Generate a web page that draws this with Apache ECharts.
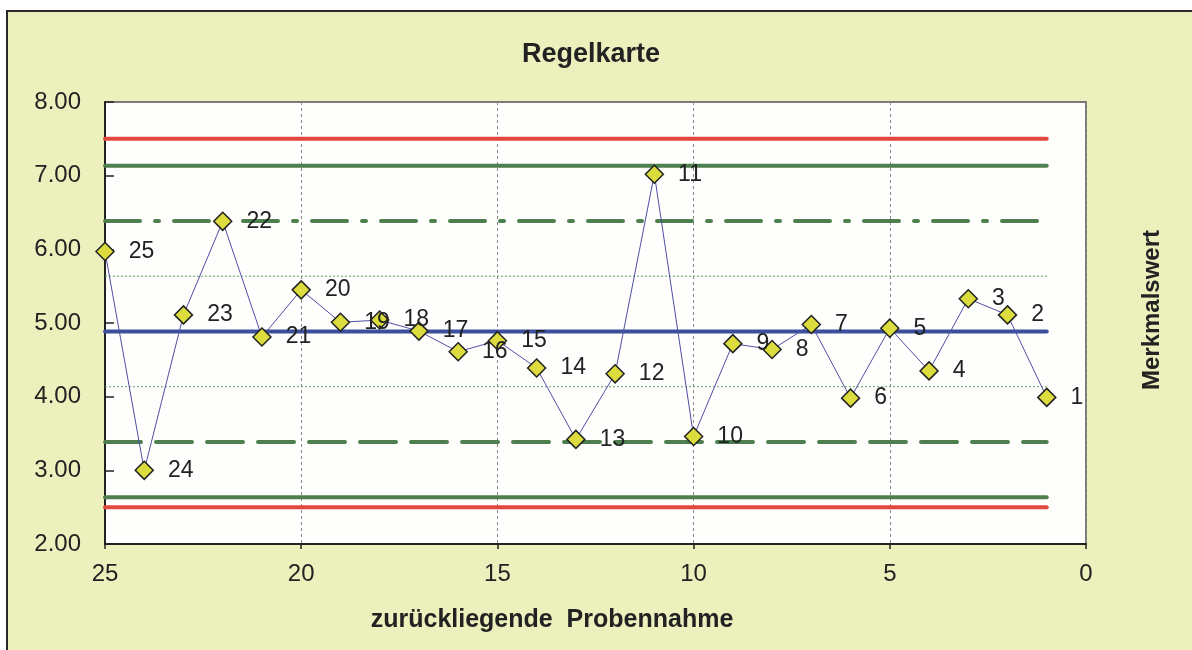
<!DOCTYPE html>
<html>
<head>
<meta charset="utf-8">
<script src="https://cdn.jsdelivr.net/npm/echarts@6/dist/echarts.min.js"></script>
<style>
html,body{margin:0;padding:0;background:#fff;}
#c{width:1192px;height:650px;}
</style>
</head>
<body>
<div id="c"></div>
<script>
// ---- data ----
const sampleNo = [25,24,23,22,21,20,19,18,17,16,15,14,13,12,11,10,9,8,7,6,5,4,3,2,1];
const values   = [5.97,3.00,5.11,6.38,4.81,5.45,5.01,5.04,4.89,4.61,4.76,4.39,3.42,4.31,7.02,3.46,4.72,4.64,4.98,3.98,4.93,4.35,5.33,5.11,3.99];
const limitNames  = ['OGW','OEG','OWG','O1S','M','U1S','UWG','UEG','UGW'];
const limitValues = [7.50, 7.135, 6.385, 5.635, 4.885, 4.135, 3.385, 2.635, 2.50];
const yTicks = ['2.00','3.00','4.00','5.00','6.00','7.00','8.00'];
const xTicks = ['0','5','10','15','20','25'];
const titleText = 'Regelkarte';
const xName = 'zurückliegende  Probennahme';
const yName = 'Merkmalswert';

// ---- styles ----
const FONT = '"Liberation Sans", Arial, sans-serif';
const RED = '#E2483F', GREEN = '#4E7F4E', BLUE = '#3B4F9B', DOT = '#5FA35F';
const limitStyle = {
  OGW: {color: RED, width: 4, type: 'solid'},
  OEG: {color: GREEN, width: 4, type: 'solid'},
  OWG: {color: GREEN, width: 4, type: [35, 15, 4, 15]},
  O1S: {color: DOT, width: 1, type: [2, 2]},
  M:   {color: BLUE, width: 4, type: 'solid'},
  U1S: {color: DOT, width: 1, type: [2, 2]},
  UWG: {color: GREEN, width: 4, type: [36, 15]},
  UEG: {color: GREEN, width: 4, type: 'solid'},
  UGW: {color: RED, width: 4, type: 'solid'}
};

const xFirst = sampleNo[0], xLast = sampleNo[sampleNo.length - 1];
const limitSeries = limitNames.map((n, i) => ({
  name: n,
  type: 'line',
  silent: true,
  showSymbol: false,
  symbol: 'none',
  z: 3,
  data: [[xFirst, limitValues[i]], [xLast, limitValues[i]]],
  lineStyle: {color: limitStyle[n].color, width: limitStyle[n].width, type: limitStyle[n].type, cap: limitStyle[n].width > 2 ? 'round' : 'butt'}
}));

const chart = echarts.init(document.getElementById('c'), null, {renderer: 'canvas'});
chart.setOption({
  backgroundColor: '#ffffff',
  animation: false,
  graphic: [
    {type: 'rect', z: -100, silent: true, shape: {x: 7, y: 11, width: 1200, height: 660},
     style: {fill: '#ECF0BD', stroke: '#2a2a2a', lineWidth: 2}},
    {type: 'text', x: 591, y: 55, silent: true,
     style: {text: titleText, font: 'bold 27px ' + FONT, fill: '#222', textAlign: 'center', textVerticalAlign: 'middle'}},
    {type: 'text', x: 552, y: 620, silent: true,
     style: {text: xName, font: 'bold 25px ' + FONT, fill: '#222', textAlign: 'center', textVerticalAlign: 'middle'}},
    {type: 'text', x: 1152, y: 310, rotation: Math.PI / 2, silent: true,
     style: {text: yName, font: 'bold 24px ' + FONT, fill: '#222', textAlign: 'center', textVerticalAlign: 'middle'}}
  ],
  grid: {left: 105, right: 106, top: 102, bottom: 106, show: true, backgroundColor: '#FEFEFC', borderColor: '#7a7a7a', borderWidth: 2},
  xAxis: {
    type: 'value', inverse: true, min: 0, max: 25, interval: 5,
    axisLine: {show: true, onZero: false, lineStyle: {color: '#222', width: 2}},
    axisTick: {show: true, inside: false, length: 5, lineStyle: {color: '#222', width: 1.5}},
    axisLabel: {fontSize: 24, color: '#222', fontFamily: FONT, margin: 18,
      formatter: v => xTicks[xTicks.indexOf(String(v))] || String(v)},
    splitLine: {show: true, lineStyle: {color: '#8a8a8a', width: 1, type: [3, 3]}}
  },
  yAxis: {
    type: 'value', min: 2, max: 8, interval: 1,
    axisLine: {show: true, onZero: false, lineStyle: {color: '#222', width: 2}},
    axisTick: {show: true, inside: true, length: 9, lineStyle: {color: '#222', width: 1.5}},
    axisLabel: {fontSize: 24, color: '#222', fontFamily: FONT, margin: 24,
      formatter: v => yTicks[Math.round(v) - 2]},
    splitLine: {show: false}
  },
  series: limitSeries.concat([{
    name: 'Messwert',
    type: 'line',
    z: 5,
    data: sampleNo.map((s, i) => [s, values[i]]),
    lineStyle: {color: '#4F4FA8', width: 1},
    symbol: 'diamond',
    symbolSize: 18,
    itemStyle: {color: '#DCDC3E', borderColor: '#222', borderWidth: 1.5},
    label: {show: true, position: 'right', distance: 14, fontSize: 23, color: '#222', fontFamily: FONT,
      formatter: p => String(p.value[0])}
  }])
});
</script>
</body>
</html>
